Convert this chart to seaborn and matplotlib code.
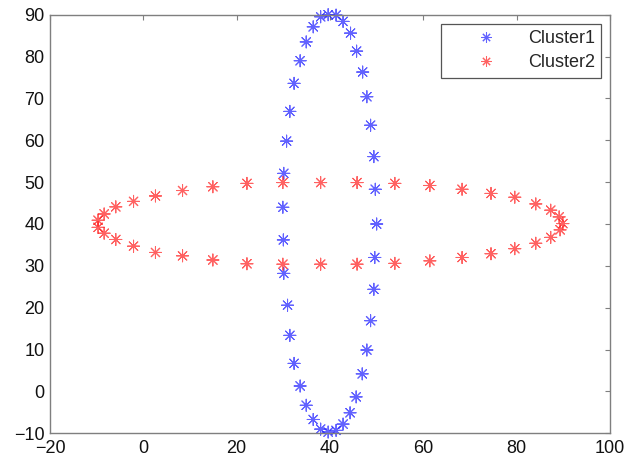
import pandas as pd
import seaborn as sns
import matplotlib.pyplot as plt

# values
cluster1_x = [38.0, 39.6, 41.3, 42.8, 36.4, 44.4, 34.9, 45.7, 33.6, 47.0,
              32.3, 47.9, 31.4, 48.7, 30.7, 49.4, 30.1, 49.7, 29.9, 50.0,
              30.0, 49.6, 30.1, 49.4, 30.9, 48.7, 31.4, 47.9, 32.3, 46.9,
              33.6, 45.6, 34.9, 44.3, 36.4, 42.8, 38.0, 39.6, 41.3]
cluster1_y = [89.5, 90.0, 89.9, 88.4, 87.1, 85.6, 83.5, 81.3, 79.0, 76.3,
              73.6, 70.4, 66.9, 63.6, 59.8, 56.1, 52.1, 48.3, 44.0, 40.0,
              36.2, 32.0, 28.2, 24.4, 20.6, 16.9, 13.4, 9.9, 6.7, 4.2,
              1.3, -1.3, -3.3, -5.1, -6.7, -7.8, -9.0, -9.7, -9.3]

cluster2_x = [-9.7, -8.4, -5.9, -2.1, 2.6, 8.4, 14.9, 22.2, 29.9, 38.0,
              45.8, 53.9, 61.4, 68.3, 74.5, 79.6, 84.1, 87.3, 89.1, 89.9,
              -9.7, -8.4, -5.9, -2.1, 2.6, 8.4, 14.9, 22.2, 29.9, 38.0,
              45.8, 53.9, 61.4, 68.3, 74.5, 79.6, 84.1, 87.3, 89.3]
cluster2_y = [40.9, 42.4, 44.1, 45.4, 46.7, 48.0, 48.9, 49.7, 49.9, 49.9,
              49.9, 49.7, 49.2, 48.3, 47.3, 46.4, 44.8, 43.3, 41.7, 40.1,
              39.2, 37.8, 36.3, 34.7, 33.2, 32.4, 31.4, 30.5, 30.4, 30.4,
              30.4, 30.6, 31.2, 32.0, 32.9, 34.1, 35.4, 36.8, 38.6]

x_ticks = [-20, 0, 20, 40, 60, 80, 100]
y_ticks = [-10, 0, 10, 20, 30, 40, 50, 60, 70, 80, 90]

df = pd.DataFrame({
    "x": cluster1_x + cluster2_x,
    "y": cluster1_y + cluster2_y,
    "Cluster": ["Cluster1"] * len(cluster1_x) + ["Cluster2"] * len(cluster2_x),
})

sns.set_theme(style="white")
plt.rcParams["font.family"] = ["Liberation Sans", "DejaVu Sans"]

fig = plt.figure(figsize=(6.43, 4.62), dpi=100)
ax = fig.add_axes([50 / 643, 1 - 433.3 / 462, 560 / 643, 418.6 / 462])

sns.scatterplot(
    data=df, x="x", y="y", hue="Cluster",
    palette={"Cluster1": "#2020ff", "Cluster2": "#ff2020"},
    marker=(8, 2, 0), s=75, linewidth=0.75, alpha=0.7,
    clip_on=False, ax=ax,
)

ax.set_xlim(-20, 100)
ax.set_ylim(-10, 90)
ax.set_xticks(x_ticks)
ax.set_yticks(y_ticks)
ax.set_xlabel("")
ax.set_ylabel("")

for sp in ax.spines.values():
    sp.set_color("#7f7f7f")
    sp.set_linewidth(1.0)

ax.tick_params(axis="both", direction="in", length=3.5, width=0.8,
               color="#7f7f7f", labelsize=13, labelcolor="#111111",
               top=True, right=True)
ax.tick_params(axis="x", pad=5)
ax.tick_params(axis="y", pad=4)

sns.move_legend(
    ax, "upper right", title=None, fontsize=13, frameon=True,
    fancybox=False, edgecolor="#555555", framealpha=1,
    handlelength=4.3, handletextpad=0.15, borderpad=0.35,
    labelspacing=0.4, borderaxespad=0.5, markerscale=0.85,
)
ax.get_legend().get_frame().set_linewidth(0.9)

plt.savefig("out.png", dpi=100)
